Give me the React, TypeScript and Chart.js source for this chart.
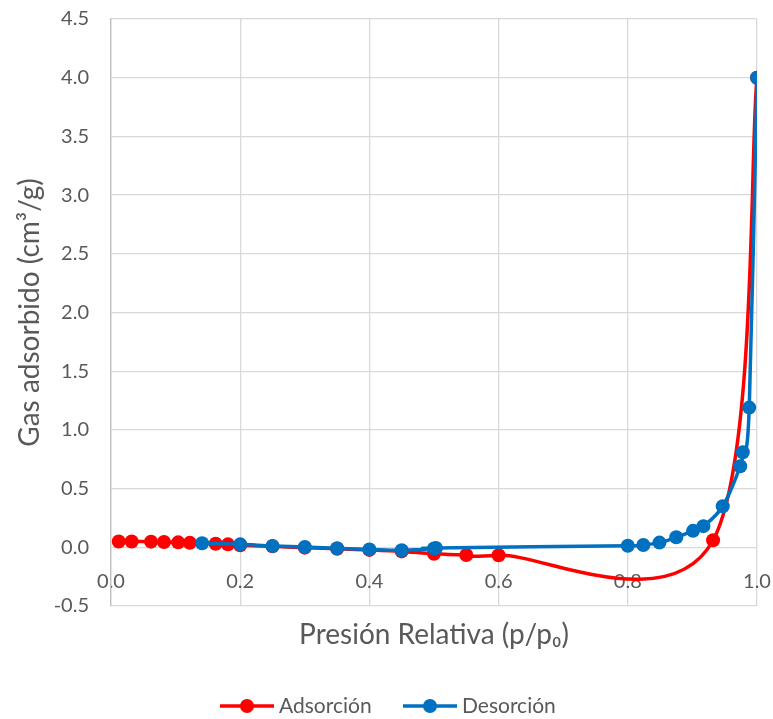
import React, { useEffect, useRef } from "react";
import { Chart, registerables } from "chart.js";

Chart.register(...registerables);

// Adsorción (red)
const adsX = [0.012, 0.032, 0.062, 0.082, 0.104, 0.122, 0.162, 0.181, 0.2, 0.25, 0.3, 0.35, 0.4, 0.45, 0.5, 0.55, 0.6, 0.932, 1.0];
const adsY = [0.05, 0.05, 0.048, 0.045, 0.042, 0.038, 0.03, 0.025, 0.018, 0.008, -0.003, -0.012, -0.022, -0.035, -0.055, -0.065, -0.068, 0.06, 4.0];

// Desorción (blue)
const desX = [0.141, 0.2, 0.25, 0.3, 0.35, 0.4, 0.45, 0.5, 0.503, 0.8, 0.824, 0.849, 0.875, 0.901, 0.917, 0.947, 0.974, 0.978, 0.988, 1.0];
const desY = [0.035, 0.025, 0.012, 0.003, -0.008, -0.018, -0.025, -0.01, -0.005, 0.013, 0.02, 0.04, 0.085, 0.14, 0.18, 0.35, 0.69, 0.81, 1.19, 4.0];

const seriesNames = ["Adsorción", "Desorción"];
const seriesColors = ["#FF0000", "#0070C0"];

const xTitle = "Presión Relativa (p/p₀)";
const yTitle = "Gas adsorbido (cm³/g)";

const FONT = "Lato, 'DejaVu Sans', sans-serif";
const TEXT = "#595959";

// Excel-style smoothing: Catmull-Rom control points at 1/6 of neighbour span,
// computed from the element positions the library placed.
const excelSmoothPlugin = {
  id: "excelSmooth",
  beforeDatasetDraw(chart: any, args: any) {
    const meta = args.meta;
    const pts = meta.data;
    const n = pts.length;
    for (let i = 0; i < n; i++) {
      const p = pts[i];
      const prev = pts[Math.max(0, i - 1)];
      const next = pts[Math.min(n - 1, i + 1)];
      const dx = (next.x - prev.x) / 6;
      const dy = (next.y - prev.y) / 6;
      p.cp1x = p.x - dx;
      p.cp1y = p.y - dy;
      p.cp2x = p.x + dx;
      p.cp2y = p.y + dy;
    }
    if (meta.dataset) meta.dataset._pointsUpdated = true;
  },
};

const legendPlugin = {
  id: "customLegend",
  afterDraw(chart: any) {
    const ctx = chart.ctx;
    const y = 706;
    const items = [
      { label: seriesNames[0], color: seriesColors[0], x: 220 },
      { label: seriesNames[1], color: seriesColors[1], x: 403 },
    ];
    ctx.save();
    for (const it of items) {
      ctx.strokeStyle = it.color;
      ctx.lineWidth = 3.5;
      ctx.beginPath();
      ctx.moveTo(it.x, y);
      ctx.lineTo(it.x + 54, y);
      ctx.stroke();
      ctx.fillStyle = it.color;
      ctx.beginPath();
      ctx.arc(it.x + 27, y, 7, 0, Math.PI * 2);
      ctx.fill();
      ctx.fillStyle = TEXT;
      ctx.font = `21px ${FONT}`;
      ctx.textAlign = "left";
      ctx.textBaseline = "middle";
      ctx.fillText(it.label, it.x + 59, y);
    }
    ctx.restore();
  },
};

export default function App() {
  const ref = useRef<HTMLCanvasElement | null>(null);

  useEffect(() => {
    if (!ref.current) return;
    const chart = new Chart(ref.current, {
      type: "line",
      data: {
        datasets: [
          {
            label: seriesNames[0],
            data: adsX.map((x, i) => ({ x, y: adsY[i] })),
            borderColor: seriesColors[0],
            backgroundColor: seriesColors[0],
            pointBackgroundColor: seriesColors[0],
            pointBorderColor: seriesColors[0],
            pointRadius: 7,
            pointBorderWidth: 0,
            borderWidth: 3.5,
            tension: 0.4,
            fill: false,
            order: 1,
          },
          {
            label: seriesNames[1],
            data: desX.map((x, i) => ({ x, y: desY[i] })),
            borderColor: seriesColors[1],
            backgroundColor: seriesColors[1],
            pointBackgroundColor: seriesColors[1],
            pointBorderColor: seriesColors[1],
            pointRadius: 7,
            pointBorderWidth: 0,
            borderWidth: 3.5,
            tension: 0.4,
            fill: false,
            order: 0,
          },
        ],
      },
      options: {
        responsive: false,
        animation: false,
        events: [],
        layout: { padding: { top: 19, right: 16, left: 0, bottom: 113 } },
        plugins: {
          legend: { display: false },
          tooltip: { enabled: false },
        },
        scales: {
          x: {
            type: "linear",
            position: { y: 0 },
            min: 0,
            max: 1,
            ticks: {
              stepSize: 0.2,
              callback: (v: any) => Number(v).toFixed(1),
              font: { family: FONT, size: 20 },
              color: TEXT,
              padding: 22,
            },
            grid: { color: "#D9D9D9", lineWidth: 1.3, drawTicks: false },
            border: { display: false },
            title: {
              display: true,
              text: xTitle,
              font: { family: FONT, size: 28 },
              color: TEXT,
              padding: { top: 0, bottom: 0 },
            },
            afterFit: (s: any) => {
              s.height = 104;
              s.paddingLeft = 0;
              s.paddingRight = 0;
            },
          },
          y: {
            type: "linear",
            min: -0.5,
            max: 4.5,
            ticks: {
              stepSize: 0.5,
              callback: (v: any) => Number(v).toFixed(1),
              font: { family: FONT, size: 20 },
              color: TEXT,
              padding: 22,
            },
            grid: { color: "#D9D9D9", lineWidth: 1.3, drawTicks: false },
            border: { display: true, color: "#BFBFBF", width: 1.3 },
            title: {
              display: true,
              text: yTitle,
              font: { family: FONT, size: 28 },
              color: TEXT,
              padding: { top: 13, bottom: 0 },
            },
            afterFit: (s: any) => {
              s.width = 111;
              s.paddingTop = 0;
              s.paddingBottom = 0;
            },
          },
        },
      },
      plugins: [excelSmoothPlugin, legendPlugin],
    });
    return () => chart.destroy();
  }, []);

  return (
    <div style={{ position: "absolute", left: 0, top: 0, width: 773, height: 719, background: "#fff" }}>
      <canvas ref={ref} width={773} height={719} style={{ display: "block" }} />
    </div>
  );
}
